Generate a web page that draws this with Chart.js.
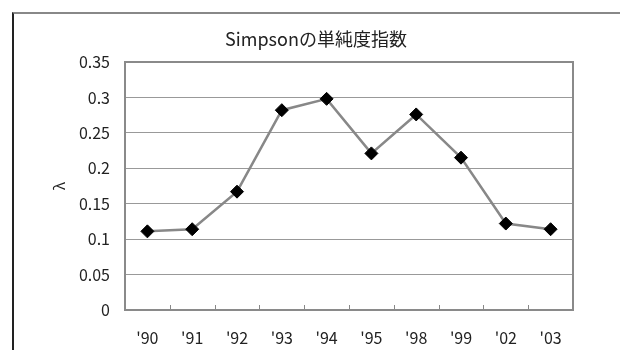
<!DOCTYPE html>
<html>
<head>
<meta charset="utf-8">
<script src="https://cdn.jsdelivr.net/npm/chart.js@4.4.0/dist/chart.umd.min.js"></script>
<style>
  body { margin: 0; background: #fff; }
  #wrap { position: relative; width: 620px; height: 350px; }
  #frame {
    position: absolute; left: 12px; top: 12px; width: 610px; height: 350px;
    border-left: 2px solid #222; border-top: 2px solid #888; border-right: 2px solid #888;
    box-sizing: border-box;
  }
  canvas { position: absolute; left: 0; top: 0; }
</style>
</head>
<body>
<div id="wrap">
  <div id="frame"></div>
  <canvas id="myChart" width="620" height="350"></canvas>
</div>
<script>
const years = ["'90", "'91", "'92", "'93", "'94", "'95", "'98", "'99", "'02", "'03"];
const lambda = [0.111, 0.114, 0.167, 0.282, 0.298, 0.221, 0.276, 0.215, 0.122, 0.114];
const chartTitle = "Simpsonの単純度指数";
const yTitle = "λ";

const fontFam = "'Noto Sans CJK JP', 'Noto Sans', sans-serif";

// plot box + small category ticks pointing up
const boxPlugin = {
  id: "box",
  afterDraw(chart) {
    const { ctx, chartArea: a, scales } = chart;
    ctx.save();
    ctx.strokeStyle = "#888";
    ctx.lineWidth = 1;
    const x = scales.x;
    for (let i = 0; i < years.length - 1; i++) {
      const px = Math.round((x.getPixelForTick(i) + x.getPixelForTick(i + 1)) / 2) + 0.5;
      ctx.beginPath();
      ctx.moveTo(px, a.bottom);
      ctx.lineTo(px, a.bottom - 5);
      ctx.stroke();
    }
    ctx.lineWidth = 2;
    ctx.strokeStyle = "#8a8a8a";
    ctx.strokeRect(a.left, a.top, a.right - a.left, a.bottom - a.top);
    ctx.restore();
  },
};

const ctx = document.getElementById("myChart");
const myChart = new Chart(ctx, {
  type: "line",
  data: {
    labels: years,
    datasets: [
      {
        data: lambda,
        borderColor: "#888",
        borderWidth: 2.5,
        pointStyle: "rectRot",
        pointRadius: 6.5,
        pointBackgroundColor: "#000",
        pointBorderColor: "#000",
        pointBorderWidth: 1,
        tension: 0,
      },
    ],
  },
  options: {
    responsive: false,
    animation: false,
    layout: { padding: { left: 59, right: 47, top: 28, bottom: 2 } },
    plugins: {
      legend: { display: false },
      tooltip: { enabled: false },
      title: {
        display: true,
        text: chartTitle,
        color: "#222",
        font: { family: fontFam, size: 18, weight: "normal" },
        padding: { top: 0, bottom: 12.4 },
      },
    },
    scales: {
      x: {
        offset: true,
        afterFit: (scale) => { scale.height = 38; },
        grid: { display: false, drawTicks: false },
        border: { display: false },
        ticks: {
          color: "#222",
          font: { family: fontFam, size: 16 },
          padding: 18,
          maxRotation: 0,
        },
      },
      y: {
        min: 0,
        max: 0.35,
        afterFit: (scale) => { scale.width = 66; },
        grid: { color: "#999", lineWidth: 1, drawTicks: false },
        border: { display: false },
        ticks: {
          stepSize: 0.05,
          color: "#222",
          font: { family: fontFam, size: 16 },
          padding: 15,
          callback: (v) => String(+v.toFixed(2)),
        },
        title: {
          display: true,
          text: yTitle,
          color: "#222",
          font: { family: fontFam, size: 15 },
          padding: { top: -9, bottom: 0 },
        },
      },
    },
  },
  plugins: [boxPlugin],
});
</script>
</body>
</html>
